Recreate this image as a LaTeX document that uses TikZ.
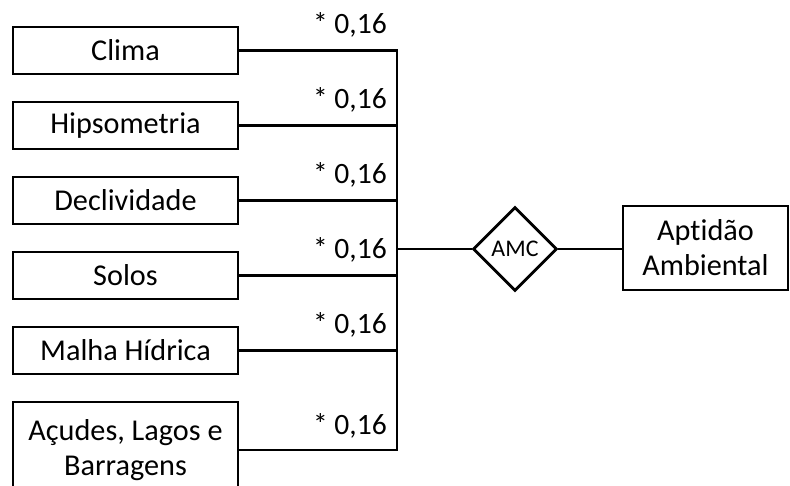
\documentclass[tikz,border=0pt]{standalone}
\usepackage{fontspec}
\setmainfont{Carlito}[Ligatures=NoCommon]
\usetikzlibrary{shapes.geometric}

\begin{document}
\begin{tikzpicture}[x=0.025cm,y=-0.025cm,
    caixa/.style={draw,line width=2pt,minimum width=5.625cm,minimum height=1.175cm,align=center,font=\fontsize{21.5}{25}\selectfont},
    peso/.style={anchor=east,inner sep=0pt,font=\fontsize{21}{24}\selectfont},
    linha/.style={line width=2pt}]
    \useasboundingbox (0,0) rectangle (790,486);

    \foreach \nome/\y/\texto in {clima/50.5/Clima, hipso/125.5/Hipsometria, decliv/200.5/Declividade, solos/275.5/Solos, malha/350.5/Malha Hídrica}
    {
        \node[caixa] (\nome) at (125.5,\y) {\texto};
        \node[peso] (p\nome) at (387,\y-25.5) {* 0,16};
    }
    \node[caixa,minimum height=2.4cm] (acudes) at (125.5,450) {Açudes, Lagos e\\Barragens};
    \node[peso] (pacudes) at (387,426) {* 0,16};

    \node[diamond,draw,line width=2pt,aspect=1,minimum size=2.1cm,inner sep=0pt,font=\fontsize{17}{20}\selectfont] (amc) at (515,249) {AMC};
    \node[caixa,minimum width=4.125cm,minimum height=2.1cm] (aptidao) at (705.5,248) {Aptidão\\Ambiental};

    \coordinate (bus) at (397,0);
    \draw[linha] (clima.east) -- (clima.east -| bus) -- (acudes.east -| bus) -- (acudes.east);
    \foreach \nome in {hipso,decliv,solos,malha}
        \draw[linha] (\nome.east) -- (\nome.east -| bus);

    \draw[linha] (amc.west -| bus) -- (amc.west);
    \draw[linha] (amc.east) -- (amc.east -| aptidao.west);
\end{tikzpicture}
\end{document}
